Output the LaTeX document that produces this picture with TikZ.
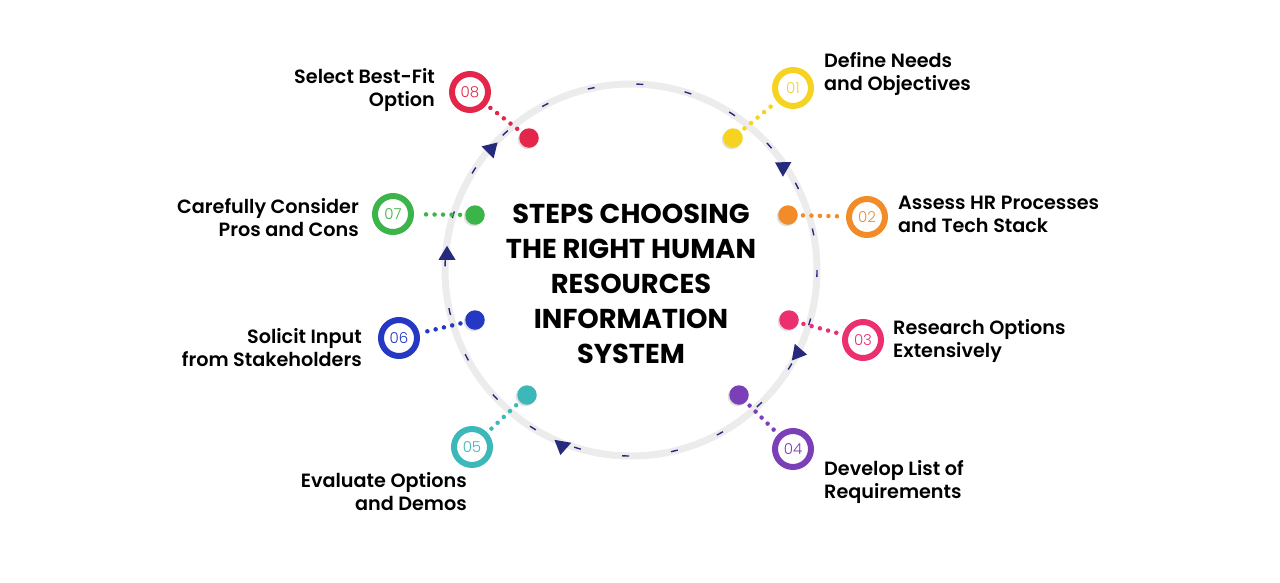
\documentclass[tikz,border=0pt]{standalone}
\usepackage{fontspec}
\setmainfont{Poppins}
\newfontfamily\titrefont{Poppins SemiBold}
\newfontfamily\grasfont{Poppins Bold}
\newfontfamily\numfont{Poppins Light}
\usetikzlibrary{shapes.geometric,shadows}
\definecolor{jaune}{HTML}{F5D320}
\definecolor{orange}{HTML}{F28C28}
\definecolor{rose}{HTML}{EC2F6E}
\definecolor{violet}{HTML}{7B3FB8}
\definecolor{turquoise}{HTML}{3DB8B8}
\definecolor{bleu}{HTML}{2438C4}
\definecolor{vert}{HTML}{3BB44A}
\definecolor{rouge}{HTML}{E3264A}
\definecolor{gris}{HTML}{ECECEC}
\definecolor{marine}{HTML}{262A7C}
\begin{document}
\begin{tikzpicture}[x=1pt,y=-1pt]
			% Styles
			\tikzstyle{anneau}=[line width=7pt,color=gris]
			\tikzstyle{tirets}=[line width=1.4pt,color=marine,dash pattern=on 7pt off 42pt]
			\tikzstyle{pastille}=[circle,minimum size=19.5pt,inner sep=0pt,drop shadow={shadow xshift=-1.5pt,shadow yshift=-1.5pt,fill=gray!50,opacity=.5}]
			\tikzstyle{cercle}=[circle,draw,line width=6pt,minimum size=36pt,inner sep=0pt,fill=white,font=\numfont\fontsize{15}{15}\selectfont]
			\tikzstyle{pointilles}=[line width=4.5pt,line cap=round,dash pattern=on 0pt off 8.5pt,shorten <=5pt,shorten >=4pt]
			\tikzstyle{fleche}=[isosceles triangle,isosceles triangle apex angle=60,isosceles triangle stretches,fill=marine,inner sep=0pt,minimum height=14pt,minimum width=17pt]
			\tikzstyle{etiquette}=[font=\titrefont\fontsize{19.2}{23}\selectfont,inner sep=0pt]
			\tikzstyle{gauche}=[etiquette,anchor=west,align=left]
			\tikzstyle{droite}=[etiquette,anchor=east,align=right]
			\tikzstyle{titre}=[font=\grasfont\fontsize{27.3}{35}\selectfont,align=center,inner sep=0pt]
			% Cadre
			\useasboundingbox (0,0) rectangle (1280,582);
			% Anneau
			\coordinate (centre) at (631,270);
			\draw[anneau] (centre) circle (186);
			\draw[tirets] (centre) circle (186);
			\node[titre] (titre) at (631,284) {STEPS CHOOSING\\THE RIGHT HUMAN\\RESOURCES\\INFORMATION\\SYSTEM};
			% Fleches
			\node[fleche,rotate=150] (f1) at (783,167) {};
			\node[fleche,rotate=-10] (f2) at (798,353) {};
			\node[fleche,rotate=-100] (f3) at (562,446) {};
			\node[fleche,rotate=90] (f4) at (447,255) {};
			\node[fleche,rotate=45] (f5) at (491,149) {};
			% Noeuds
			\node[pastille,fill=jaune] (d1) at (733,138) {};
			\node[pastille,fill=orange] (d2) at (788,215) {};
			\node[pastille,fill=rose] (d3) at (789,320) {};
			\node[pastille,fill=violet] (d4) at (739,395) {};
			\node[pastille,fill=turquoise] (d5) at (527,395) {};
			\node[pastille,fill=bleu] (d6) at (475,320) {};
			\node[pastille,fill=vert] (d7) at (475,215) {};
			\node[pastille,fill=rouge] (d8) at (529,138) {};
			%
			\node[cercle,draw=jaune,text=jaune] (c1) at (793,88) {01};
			\node[cercle,draw=orange,text=orange] (c2) at (867,217) {02};
			\node[cercle,draw=rose,text=rose] (c3) at (863,340) {03};
			\node[cercle,draw=violet,text=violet] (c4) at (793,449) {04};
			\node[cercle,draw=turquoise,text=turquoise] (c5) at (472,447) {05};
			\node[cercle,draw=bleu,text=bleu] (c6) at (399,338) {06};
			\node[cercle,draw=vert,text=vert] (c7) at (393,214) {07};
			\node[cercle,draw=rouge,text=rouge] (c8) at (470,92) {08};
			%
			\node[gauche] (l1) at (824,74.5) {Define Needs\\and Objectives};
			\node[gauche] (l2) at (898,214.5) {Assess HR Processes\\and Tech Stack};
			\node[gauche] (l3) at (893,340.5) {Research Options\\Extensively};
			\node[gauche] (l4) at (824,481.5) {Develop List of\\Requirements};
			\node[droite] (l5) at (467,491.5) {Evaluate Options\\and Demos};
			\node[droite] (l6) at (362,347.5) {Solicit Input\\from Stakeholders};
			\node[droite] (l7) at (359,217.5) {Carefully Consider\\Pros and Cons};
			\node[droite] (l8) at (435,90.5) {Select Best-Fit\\Option};
			% Arcs
			\draw[pointilles,jaune] (d1) -- (c1);
			\draw[pointilles,orange] (d2) -- (c2);
			\draw[pointilles,rose] (d3) -- (c3);
			\draw[pointilles,violet] (d4) -- (c4);
			\draw[pointilles,turquoise] (d5) -- (c5);
			\draw[pointilles,bleu] (d6) -- (c6);
			\draw[pointilles,vert] (d7) -- (c7);
			\draw[pointilles,rouge] (d8) -- (c8);
\end{tikzpicture}
\end{document}
